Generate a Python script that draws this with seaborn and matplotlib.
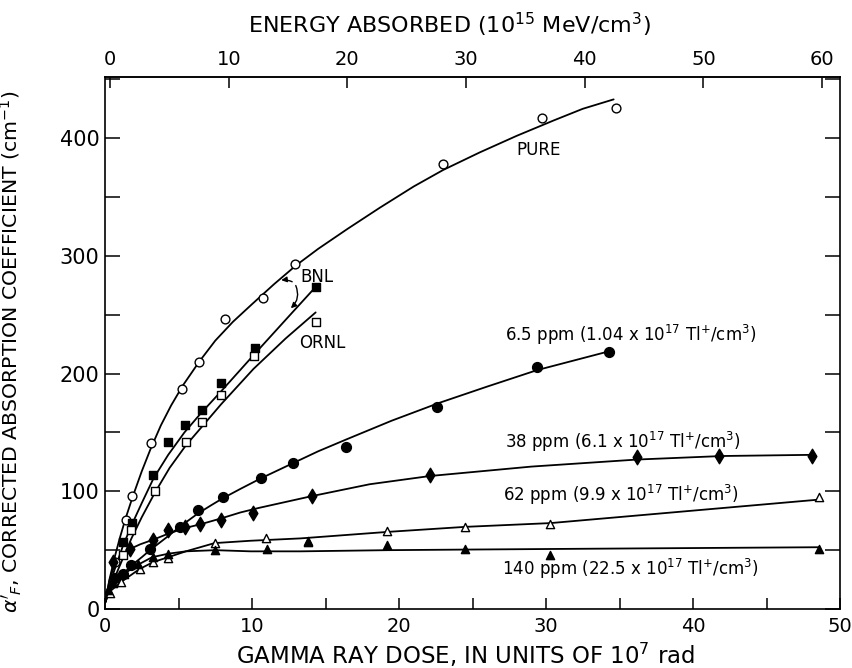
import numpy as np
import pandas as pd
import matplotlib
matplotlib.use("Agg")
import matplotlib.pyplot as plt
import seaborn as sns

# ---- measured points: gamma dose (1e7 rad) vs corrected absorption coefficient (cm^-1)
pure_dose = [0.68, 1.41, 1.86, 3.11, 5.26, 6.39, 8.18, 10.77, 12.93, 22.97, 29.75, 34.76]
pure_coef = [40, 76, 96, 141, 187, 210, 246, 264, 293, 378, 417, 426]

bnl_dose = [1.2, 1.81, 3.29, 4.31, 5.46, 6.6, 7.89, 10.2, 14.33]
bnl_coef = [57, 73, 114, 142, 156, 169, 192, 222, 274]

ornl_dose = [1.25, 1.77, 3.38, 5.49, 6.62, 7.91, 10.14, 14.33]
ornl_coef = [46, 67, 100, 142, 159, 182, 215, 244]

ppm6_dose = [0.68, 1.25, 1.75, 3.06, 5.1, 6.3, 8.0, 10.61, 12.81, 16.37, 22.6, 29.37, 34.3]
ppm6_coef = [26, 30, 37, 51, 70, 84, 95, 111, 124, 138, 172, 206, 218]

ppm38_dose = [0.57, 1.7, 3.29, 4.31, 5.44, 6.46, 7.87, 10.05, 14.1, 22.1, 36.2, 41.8, 48.1]
ppm38_coef = [40, 51, 58.5, 67, 70, 72, 76, 82, 96, 114, 129, 130, 130]

ppm62_dose = [0.34, 1.09, 2.35, 3.27, 4.31, 7.45, 10.95, 13.8, 19.2, 24.5, 30.3, 48.6]
ppm62_coef = [14, 23, 34, 40, 43, 56, 60, 58, 66, 70, 72, 95]

ppm140_dose = [0.2, 0.57, 1.31, 2.27, 3.24, 4.31, 7.48, 11.0, 13.8, 19.2, 24.5, 30.3, 48.6]
ppm140_coef = [16, 22, 30, 38, 44, 47, 50, 51, 57, 54, 51, 46, 51]

# ---- hand-drawn fit curves (knots along each line)
pure_fit_d = [0, 0.3, 0.7, 1.0, 1.4, 1.9, 2.5, 3.1, 3.8, 4.5, 5.3, 6.4, 7.5, 8.7, 10.0,
              11.5, 13.0, 14.5, 16.5, 18.7, 21.0, 23.0, 25.5, 28.0, 30.5, 32.5, 34.6]
pure_fit_v = [5, 25, 46, 60, 77, 96, 117, 136, 156, 173, 190, 210, 228, 244, 259,
              276, 292, 306, 323, 341, 359, 373, 388, 402, 415, 425, 433]

bnl_fit_d = [0, 0.5, 1.2, 1.8, 2.5, 3.3, 4.3, 5.4, 6.5, 7.9, 10.2, 12.6, 14.5]
bnl_fit_v = [5, 28, 53, 71, 90, 111, 131, 150, 166, 185, 217, 250, 276]

ornl_fit_d = [0, 0.5, 1.25, 1.8, 2.5, 3.4, 4.4, 5.5, 6.6, 7.9, 10.1, 12.3, 14.33]
ornl_fit_v = [5, 22, 44, 60, 78, 99, 120, 139, 155, 174, 204, 230, 252]

ppm6_fit_d = [0, 0.3, 0.7, 1.25, 1.8, 2.5, 3.06, 4.2, 5.1, 6.3, 7.2, 8.0, 9.2, 10.6,
              12.8, 14.5, 16.4, 19.5, 22.7, 26.0, 29.4, 34.3]
ppm6_fit_v = [5, 15, 23, 30, 37, 44, 50, 61, 70, 81, 88, 94, 102, 111,
              124, 134, 144, 160, 175, 189, 203, 219]

ppm38_fit_d = [0, 0.3, 0.6, 1.1, 1.7, 2.4, 3.3, 4.3, 5.5, 6.5, 7.9, 9.2, 10.5, 14.1,
               18.0, 22.1, 29.0, 36.2, 42.0, 48.1]
ppm38_fit_v = [5, 24, 36, 45, 51, 55, 59, 64, 69, 72, 77, 82, 86, 96,
               106, 113, 121, 127, 130, 131]

ppm62_fit_d = [0, 0.11, 0.34, 1.1, 2.35, 3.3, 4.3, 5.5, 7.45, 9.9, 13.3, 19.2, 24.5, 30.3, 48.6]
ppm62_fit_v = [5, 11, 15, 23, 34, 40, 44, 49, 56, 58, 60, 65.5, 69.8, 73, 93]

ppm140_fit_d = [0, 0.2, 0.57, 1.3, 1.8, 2.3, 3.2, 4.3, 5.5, 7.5, 9.9, 13.3, 19.2, 24.5, 30.3, 48.6]
ppm140_fit_v = [5, 15, 22, 30, 34, 38, 44, 47, 49, 50, 49, 49, 50, 50.5, 51, 52.5]

series_labels = [
    "6.5 ppm (1.04 x 10$^{17}$ Tl$^{+}$/cm$^{3}$)",
    "38 ppm (6.1 x 10$^{17}$ Tl$^{+}$/cm$^{3}$)",
    "62 ppm (9.9 x 10$^{17}$ Tl$^{+}$/cm$^{3}$)",
    "140 ppm (22.5 x 10$^{17}$ Tl$^{+}$/cm$^{3}$)",
]

sns.set_theme(style="white")
plt.rcParams["font.family"] = ["DejaVu Sans"]
plt.rcParams["mathtext.fontset"] = "dejavusans"
for key in ("text.color", "axes.labelcolor", "xtick.color", "ytick.color"):
    plt.rcParams[key] = "black"

fig = plt.figure(figsize=(8.53, 6.68), dpi=100)
ax = fig.add_axes([0.1231, 0.0883, 0.8617, 0.7964])

fits = [
    (pure_fit_d, pure_fit_v), (bnl_fit_d, bnl_fit_v), (ornl_fit_d, ornl_fit_v),
    (ppm6_fit_d, ppm6_fit_v), (ppm38_fit_d, ppm38_fit_v),
    (ppm62_fit_d, ppm62_fit_v), (ppm140_fit_d, ppm140_fit_v),
]
for d, v in fits:
    sns.lineplot(x=d, y=v, ax=ax, color="black", lw=1.3, sort=False, estimator=None)

points = [
    (pure_dose, pure_coef, "o", "white", 40),
    (bnl_dose, bnl_coef, "s", "black", 40),
    (ornl_dose, ornl_coef, "s", "white", 40),
    (ppm6_dose, ppm6_coef, "o", "black", 50),
    (ppm38_dose, ppm38_coef, "d", "black", 55),
    (ppm62_dose, ppm62_coef, "^", "white", 35),
    (ppm140_dose, ppm140_coef, "^", "black", 35),
]
for d, v, m, fc, s in points:
    sns.scatterplot(x=d, y=v, ax=ax, marker=m, s=s, color=fc,
                    edgecolor="black", linewidth=1.0, zorder=3)

ax.set_xlim(0, 50)
ax.set_ylim(0, 452)

for sp in ax.spines.values():
    sp.set_color("black")
    sp.set_linewidth(1.2)

ax.set_xticks(np.arange(0, 51, 10))
ax.set_xticks(np.arange(0, 51, 5), minor=True)
ax.set_yticks(np.arange(0, 401, 100))
ax.set_yticks(np.arange(0, 451, 50), minor=True)
ax.tick_params(axis="x", which="both", direction="in", length=8, width=1.1,
               labelsize=14, pad=6, bottom=True, top=False)
ax.tick_params(axis="y", which="both", direction="in", length=11, width=1.1,
               labelsize=15, pad=4, left=True, right=True)

ax.set_xlabel("GAMMA RAY DOSE, IN UNITS OF 10$^{7}$ rad", fontsize=16.5, labelpad=3)
ax.xaxis.label.set_x(0.49)
ax.set_ylabel(r"$\alpha'_{F}$, CORRECTED ABSORPTION COEFFICIENT (cm$^{-1}$)",
              fontsize=14.7)
ax.yaxis.set_label_coords(-0.11, 0.483)

# energy absorbed scale along the top edge
top = ax.secondary_xaxis("top", functions=(lambda d: (d - 0.34) * 1.2386,
                                           lambda e: e / 1.2386 + 0.34))
top.set_xticks(np.arange(0, 61, 10))
top.tick_params(direction="in", length=8, width=1.1, labelsize=14, pad=6)
top.set_xlabel("ENERGY ABSORBED (10$^{15}$ MeV/cm$^{3}$)", fontsize=16, labelpad=12)
top.xaxis.label.set_x(0.469)

# curve labels
ax.text(29.5, 390, "PURE", fontsize=12, ha="center", va="center")
ax.text(13.3, 282, "BNL", fontsize=12, ha="left", va="center")
ax.text(13.2, 226, "ORNL", fontsize=12, ha="left", va="center")
ax.text(27.2, 233, series_labels[0], fontsize=12, ha="left", va="center")
ax.text(27.2, 142, series_labels[1], fontsize=12, ha="left", va="center")
ax.text(27.1, 97, series_labels[2], fontsize=12, ha="left", va="center")
ax.text(27.0, 34, series_labels[3], fontsize=12, ha="left", va="center")

arrow = dict(arrowstyle="-|>", color="black", lw=1.0, mutation_scale=8)
ax.annotate("", xy=(11.8, 279), xytext=(12.9, 277),
            arrowprops=dict(arrow, connectionstyle="arc3,rad=0.2"))
ax.annotate("", xy=(12.5, 254), xytext=(12.9, 277),
            arrowprops=dict(arrow, connectionstyle="arc3,rad=-0.4"))

fig.savefig("out.png", dpi=100)
